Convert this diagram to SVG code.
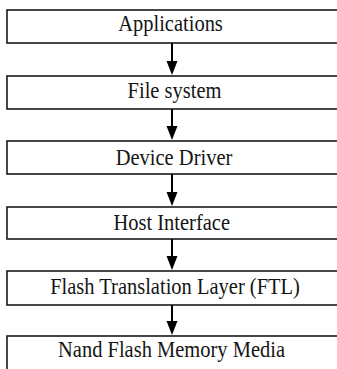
<svg xmlns="http://www.w3.org/2000/svg" width="337" height="369" viewBox="0 0 337 369">
  <style>
    .box { fill: #ffffff; stroke: #1a1a1a; stroke-width: 1.6; }
    .label { font-family: "Liberation Serif", "Times New Roman", serif; font-size: 20.5px; fill: #151515; text-anchor: middle; }
    .conn { stroke: #000000; stroke-width: 2; fill: none; }
    .head { fill: #000000; }
  </style>
  <rect width="337" height="369" fill="#ffffff"/>

  <g id="applications">
    <rect class="box" x="7" y="10" width="340" height="33"/>
    <text class="label" transform="translate(170.5,31) scale(1,1.1)">Applications</text>
  </g>
  <g id="file-system">
    <rect class="box" x="7" y="76" width="340" height="33"/>
    <text class="label" transform="translate(174.5,98) scale(1,1.1)">File system</text>
  </g>
  <g id="device-driver">
    <rect class="box" x="7" y="141" width="340" height="33"/>
    <text class="label" transform="translate(174,164.5) scale(1,1.1)">Device Driver</text>
  </g>
  <g id="host-interface">
    <rect class="box" x="7" y="207" width="340" height="32"/>
    <text class="label" transform="translate(171.7,230) scale(1,1.1)">Host Interface</text>
  </g>
  <g id="ftl">
    <rect class="box" x="7" y="271" width="340" height="34"/>
    <text class="label" transform="translate(175,293.5) scale(1,1.1)">Flash Translation Layer (FTL)</text>
  </g>
  <g id="nand-media">
    <rect class="box" x="7" y="336" width="340" height="40"/>
    <text class="label" transform="translate(171.5,356.5) scale(1,1.1)">Nand Flash Memory Media</text>
  </g>

  <g id="connectors">
    <line class="conn" x1="172" y1="43" x2="172" y2="62"/>
    <polygon class="head" points="166.5,61 177.5,61 172,75"/>
    <line class="conn" x1="172" y1="109" x2="172" y2="127"/>
    <polygon class="head" points="166.5,126 177.5,126 172,140"/>
    <line class="conn" x1="172" y1="174" x2="172" y2="193"/>
    <polygon class="head" points="166.5,192 177.5,192 172,206"/>
    <line class="conn" x1="172" y1="239" x2="172" y2="257"/>
    <polygon class="head" points="166.5,256 177.5,256 172,270"/>
    <line class="conn" x1="172" y1="305" x2="172" y2="322"/>
    <polygon class="head" points="166.5,321 177.5,321 172,335"/>
  </g>
</svg>
